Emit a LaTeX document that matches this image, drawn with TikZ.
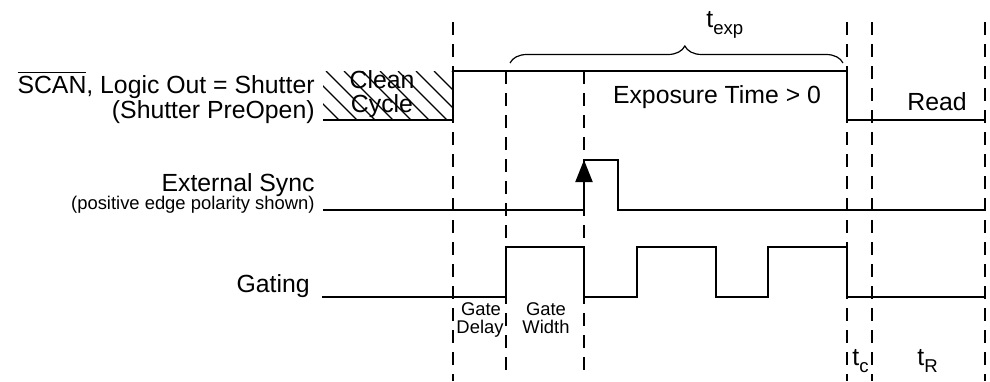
\documentclass[tikz,border=0pt]{standalone}
\usepackage{fontspec}
\setmainfont{Liberation Sans}
\usepackage{tikz}
\usetikzlibrary{arrows.meta,positioning,decorations.pathreplacing}
\newcommand{\tsub}[1]{\raisebox{-3.5pt}{\fontsize{9.3}{10}\selectfont #1}}
\tikzset{
  sig/.style={line width=1pt},
  guide/.style={line width=0.9pt,dash pattern=on 6.5pt off 4.5pt},
  lbl/.style={inner sep=0pt,font=\fontsize{12.4}{12.5}\selectfont},
  smalllbl/.style={inner sep=0pt,font=\fontsize{9.2}{9.8}\selectfont}
}

\begin{document}
\begin{tikzpicture}[x=0.5pt,y=-0.5pt]
\useasboundingbox (0,0) rectangle (990,381);
% dashed time marks
\foreach \x in {453,847,872,985} \draw[guide] (\x,22)--(\x,381);
\foreach \x in {506,584} \draw[guide] (\x,71)--(\x,373);
% shutter signal with hatched clean cycle
\begin{scope}
\clip (323,71) rectangle (453,120);
\foreach \i in {0,...,10} \draw[line width=0.55pt] (272+\i*18,71)--++(49,49);
\end{scope}
\draw[sig] (323,120)--(453,120)--(453,71)--(847,71)--(847,120)--(985,120);
\draw[line width=0.6pt,decorate,decoration={brace,amplitude=8.5pt,aspect=0.525}] (510,63)--(843,63);
% external sync
\draw[sig] (323,210)--(584,210)--(584,160)--(618,160)--(618,210)--(985,210);
\draw[sig,-{Triangle[length=11pt,width=8.5pt]}] (584,200)--(584,160);
% gating pulses
\draw[sig] (322,297)--(506,297)--(506,247)--(584,247)--(584,297)--(637,297)--(637,247)--(716,247)--(716,297)--(768,297)--(768,247)--(847,247)--(847,297)--(985,297);
% labels
\node[lbl,anchor=base east] (scan) at (315,93) {$\overline{\mbox{SCAN}}$, Logic Out = Shutter};
\node[lbl,anchor=base east] (preopen) at (315,118) {(Shutter PreOpen)};
\node[lbl,anchor=base] (clean) at (382,88) {Clean};
\node[lbl,anchor=base] (cycle) at (382,112) {Cycle};
\node[lbl,anchor=base] (expo) at (717,103) {Exposure Time > 0};
\node[lbl,anchor=base] (read) at (937,110) {Read};
\node[lbl,anchor=base west] (texp) at (706,27) {t\tsub{exp}};
\node[lbl,anchor=base east] (sync) at (315,191) {External Sync};
\node[smalllbl,anchor=base east] (polarity) at (315,209) {(positive edge polarity shown)};
\node[lbl,anchor=base east] (gating) at (310,292) {Gating};
\node[smalllbl,anchor=base] (gd1) at (481,315) {Gate};
\node[smalllbl,anchor=base] (gd2) at (480,333) {Delay};
\node[smalllbl,anchor=base] (gw1) at (546,315) {Gate};
\node[smalllbl,anchor=base] (gw2) at (546,333) {Width};
\node[lbl,anchor=base west] (tc) at (852,365) {t\tsub{c}};
\node[lbl,anchor=base west] (tr) at (917,365) {t\tsub{R}};
\end{tikzpicture}
\end{document}
